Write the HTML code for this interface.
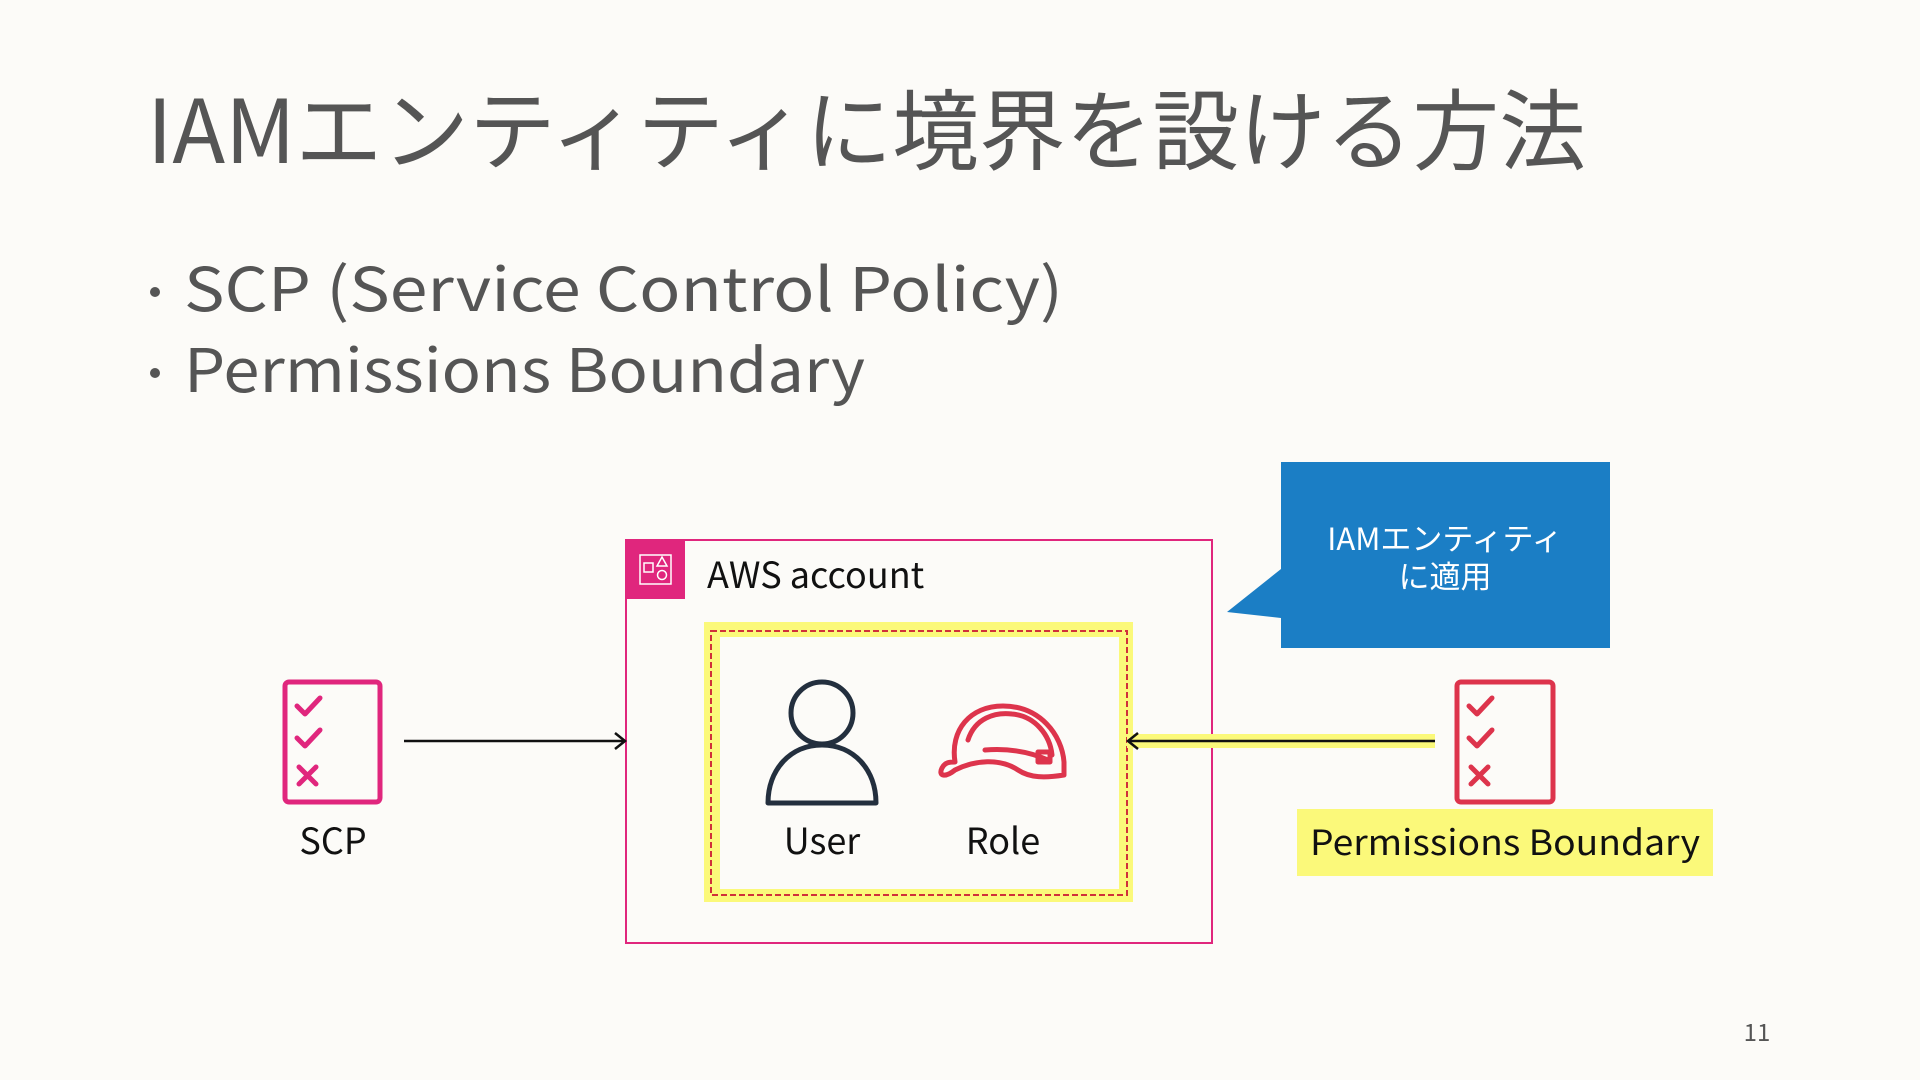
<!DOCTYPE html>
<html><head><meta charset="utf-8"><style>
html,body{margin:0;padding:0;background:#fcfbf8;}
svg{display:block}
text{font-family:"Liberation Sans","Noto Sans CJK JP",sans-serif;}
</style></head><body>
<svg width="1920" height="1080" viewBox="0 0 1920 1080" xmlns="http://www.w3.org/2000/svg">
<rect width="1920" height="1080" fill="#fcfbf8"/>
<text x="147" y="163" font-size="88" fill="#555" textLength="1439" lengthAdjust="spacingAndGlyphs" style="font-family:'Noto Sans CJK JP',sans-serif">IAMエンティティに境界を設ける方法</text>
<circle cx="155" cy="292" r="5" fill="#555"/>
<text x="184" y="311" font-size="60" fill="#555" textLength="879" lengthAdjust="spacingAndGlyphs" style="font-family:'Noto Sans CJK JP',sans-serif">SCP (Service Control Policy)</text>
<circle cx="155" cy="373" r="5" fill="#555"/>
<text x="184" y="392" font-size="60" fill="#555" textLength="681" lengthAdjust="spacingAndGlyphs" style="font-family:'Noto Sans CJK JP',sans-serif">Permissions Boundary</text>

<!-- AWS account -->
<rect x="626" y="540" width="586" height="403" fill="none" stroke="#e0267d" stroke-width="2"/>
<rect x="626" y="540" width="59" height="59" fill="#e0267d"/>
<rect x="640" y="555" width="31" height="29" fill="none" stroke="#fff" stroke-width="1.5"/>
<rect x="644" y="563" width="9" height="9" fill="none" stroke="#fff" stroke-width="1.5"/>
<path d="M662 557 L667 566 L657 566 Z" fill="none" stroke="#fff" stroke-width="1.5"/>
<circle cx="662" cy="575" r="4.5" fill="none" stroke="#fff" stroke-width="1.5"/>
<text x="707" y="588" font-size="36" fill="#111" style="font-family:'Noto Sans CJK JP',sans-serif">AWS account</text>

<rect x="704" y="622" width="429" height="280" fill="#fbf97a"/>
<rect x="720" y="637" width="399" height="252" fill="#fcfbf8"/>
<rect x="711" y="631" width="416" height="264" fill="none" stroke="#d0303a" stroke-width="2" stroke-dasharray="6,3"/>

<!-- user -->
<circle cx="822" cy="713" r="31" fill="none" stroke="#232f3e" stroke-width="5"/>
<path d="M768 803 C768 770 790 745 822 745 C854 745 876 770 876 803 Z" fill="none" stroke="#232f3e" stroke-width="5" stroke-linejoin="round"/>
<text x="822" y="854" font-size="36" fill="#111" text-anchor="middle" style="font-family:'Noto Sans CJK JP',sans-serif">User</text>
<!-- role hat -->
<g fill="none" stroke="#dd344c" stroke-width="5" stroke-linejoin="round" stroke-linecap="round">
<path d="M955 762 C950 730 970 706 1003 706 C1040 706 1062 735 1064 762 L1064 775 C1045 778 1030 778 1018 770 C1000 758 975 760 955 770 C945 778 938 776 942 768 C945 762 950 762 955 762 Z"/>
<path d="M968 740 C975 718 995 712 1012 714 C1035 716 1050 735 1052 755"/>
<path d="M985 750 C1010 748 1030 752 1048 760"/>
<rect x="1038" y="752" width="12" height="10"/>
</g>
<text x="1003" y="854" font-size="36" fill="#111" text-anchor="middle" style="font-family:'Noto Sans CJK JP',sans-serif">Role</text>

<!-- SCP icon -->
<g fill="none" stroke="#e0267d" stroke-width="5" stroke-linecap="round" stroke-linejoin="round">
<rect x="285" y="682" width="95" height="120" rx="4"/>
<path d="M297 706 L305 714 L320 698"/>
<path d="M297 738 L305 746 L320 730"/>
<path d="M299 767 L316 784 M316 767 L299 784"/>
</g>
<text x="333" y="854" font-size="36" fill="#111" text-anchor="middle" style="font-family:'Noto Sans CJK JP',sans-serif">SCP</text>
<line x1="404" y1="741" x2="624" y2="741" stroke="#111" stroke-width="2.5"/>
<path d="M615 733 L625 741 L615 749" fill="none" stroke="#111" stroke-width="2.5"/>

<!-- PB -->
<rect x="1127" y="734" width="308" height="14" fill="#fbf97a"/>
<line x1="1129" y1="741" x2="1435" y2="741" stroke="#111" stroke-width="2.5"/>
<path d="M1138 733 L1128 741 L1138 749" fill="none" stroke="#111" stroke-width="2.5"/>
<g fill="none" stroke="#dd344c" stroke-width="5" stroke-linecap="round" stroke-linejoin="round">
<rect x="1457" y="682" width="96" height="120" rx="4"/>
<path d="M1469 706 L1477 714 L1492 698"/>
<path d="M1469 738 L1477 746 L1492 730"/>
<path d="M1471 767 L1488 784 M1488 767 L1471 784"/>
</g>
<rect x="1297" y="809" width="416" height="67" fill="#fbf97a"/>
<text x="1505" y="855" font-size="35" fill="#111" text-anchor="middle" textLength="390" lengthAdjust="spacingAndGlyphs" style="font-family:'Noto Sans CJK JP',sans-serif">Permissions Boundary</text>

<!-- callout -->
<path d="M1281 462 L1610 462 L1610 648 L1281 648 L1281 618 L1227 612 L1281 569 Z" fill="#1b7ec5"/>
<text x="1445" y="550" font-size="31" fill="#fff" text-anchor="middle" style="font-family:'Noto Sans CJK JP',sans-serif">IAMエンティティ</text>
<text x="1445" y="588" font-size="31" fill="#fff" text-anchor="middle" style="font-family:'Noto Sans CJK JP',sans-serif">に適用</text>

<text x="1757" y="1041" font-size="24" fill="#555" text-anchor="middle" style="font-family:'Noto Sans CJK JP',sans-serif">11</text>
</svg>
</body></html>
